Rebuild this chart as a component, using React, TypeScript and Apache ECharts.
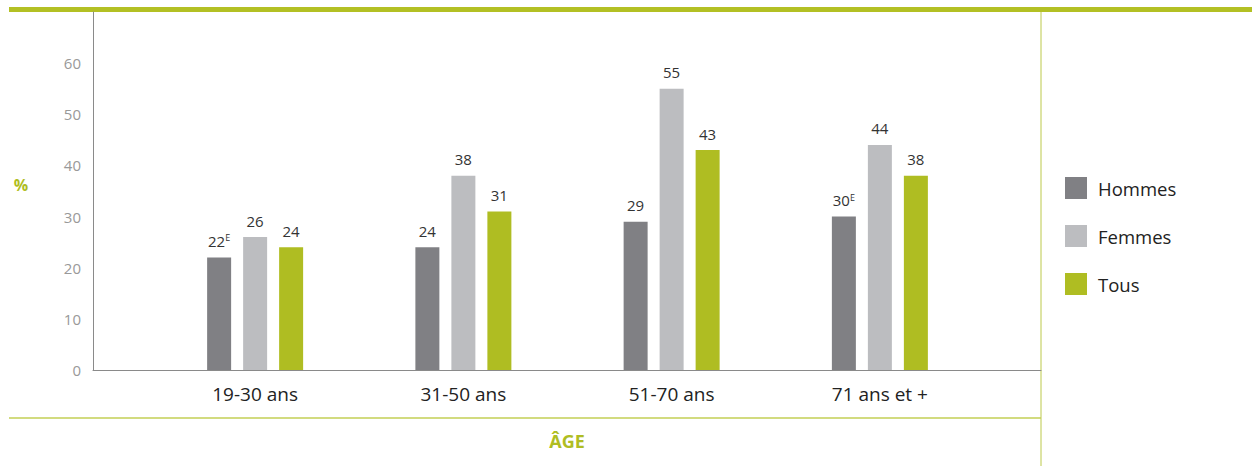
import React, { useEffect, useRef } from "react";
import * as echarts from "echarts";

const categories = ["19-30 ans", "31-50 ans", "51-70 ans", "71 ans et +"];
const hommes = [22, 24, 29, 30];
const femmes = [26, 38, 55, 44];
const tous = [24, 31, 43, 38];
const hommesFlags = ["E", "", "", "E"];
const femmesFlags = ["", "", "", ""];
const tousFlags = ["", "", "", ""];
const yTicks = [0, 10, 20, 30, 40, 50, 60];

const FONT = "'Open Sans', 'Noto Sans', sans-serif";
const GREEN = "#afbd22";

function makeLabel(flags: string[]) {
  return {
    show: true,
    position: "top",
    distance: 9,
    formatter: (p: any) =>
      flags[p.dataIndex] ? `{v|${p.value}}{e|${flags[p.dataIndex]}}` : `{v|${p.value}}`,
    rich: {
      v: { fontSize: 15, color: "#333", fontFamily: FONT },
      e: { fontSize: 9, color: "#333", fontFamily: FONT, verticalAlign: "top" },
    },
  };
}

export default function App() {
  const ref = useRef<HTMLDivElement>(null);
  useEffect(() => {
    const chart = echarts.init(ref.current!, null, { renderer: "svg" });
    chart.setOption({
      animation: false,
      textStyle: { fontFamily: FONT },
      grid: [
        { left: 93, right: 211, top: 12, bottom: 96 },
        { left: 151, right: 268, top: 12, bottom: 96 },
      ],
      xAxis: [
        {
          gridIndex: 0,
          type: "value",
          min: 0,
          max: 1,
          axisLine: { show: true, lineStyle: { color: "#8a8a8a", width: 1 } },
          axisTick: { show: false },
          axisLabel: { show: false },
          splitLine: { show: false },
        },
        {
          gridIndex: 1,
          type: "category",
          data: categories,
          axisLine: { show: false },
          axisTick: { show: false },
          axisLabel: { fontSize: 19, color: "#222", margin: 14, fontFamily: FONT },
        },
      ],
      yAxis: [
        {
          gridIndex: 0,
          type: "value",
          min: 0,
          max: 70,
          interval: 10,
          axisLine: { show: true, lineStyle: { color: "#8a8a8a", width: 1 } },
          axisTick: { show: false },
          splitLine: { show: false },
          axisLabel: {
            fontSize: 15,
            color: "#999",
            margin: 12,
            fontFamily: FONT,
            formatter: (v: number) => (yTicks.includes(v) ? String(v) : ""),
          },
        },
        {
          gridIndex: 1,
          type: "value",
          min: 0,
          max: 70,
          show: false,
          splitLine: { show: false },
        },
      ],
      legend: {
        orient: "vertical",
        left: 1065,
        top: 177,
        padding: 0,
        itemWidth: 22,
        itemHeight: 22,
        itemGap: 26,
        icon: "rect",
        textStyle: { fontSize: 18.5, color: "#222", fontFamily: FONT, padding: [0, 0, 0, 6] },
        data: ["Hommes", "Femmes", "Tous"],
      },
      series: [
        {
          name: "Hommes",
          type: "bar",
          xAxisIndex: 1,
          yAxisIndex: 1,
          data: hommes,
          barWidth: 24,
          barGap: "50%",
          itemStyle: { color: "#808084" },
          label: makeLabel(hommesFlags),
        },
        {
          name: "Femmes",
          type: "bar",
          xAxisIndex: 1,
          yAxisIndex: 1,
          data: femmes,
          barWidth: 24,
          barGap: "50%",
          itemStyle: { color: "#bcbdc0" },
          label: makeLabel(femmesFlags),
        },
        {
          name: "Tous",
          type: "bar",
          xAxisIndex: 1,
          yAxisIndex: 1,
          data: tous,
          barWidth: 24,
          barGap: "50%",
          itemStyle: { color: GREEN },
          label: makeLabel(tousFlags),
        },
      ],
      graphic: [
        { type: "rect", shape: { x: 9, y: 7, width: 1243, height: 5 }, style: { fill: "#b3c024" }, silent: true },
        { type: "line", shape: { x1: 1041, y1: 12, x2: 1041, y2: 466 }, style: { stroke: "#bcc94a", lineWidth: 1 }, silent: true },
        { type: "line", shape: { x1: 9, y1: 418, x2: 1041, y2: 418 }, style: { stroke: "#c3cf55", lineWidth: 1.5 }, silent: true },
        {
          type: "text",
          x: 21,
          y: 185,
          style: { text: "%", fontSize: 16, fontWeight: "bold", fill: GREEN, fontFamily: FONT, align: "center", verticalAlign: "middle" },
          silent: true,
        },
        {
          type: "text",
          x: 567,
          y: 441,
          style: { text: "ÂGE", fontSize: 18, fontWeight: "bold", fill: GREEN, fontFamily: FONT, align: "center", verticalAlign: "middle" },
          silent: true,
        },
      ],
    });
    return () => chart.dispose();
  }, []);
  return (
    <div
      ref={ref}
      style={{ position: "fixed", left: 0, top: 0, width: 1252, height: 466, background: "#fff" }}
    />
  );
}
